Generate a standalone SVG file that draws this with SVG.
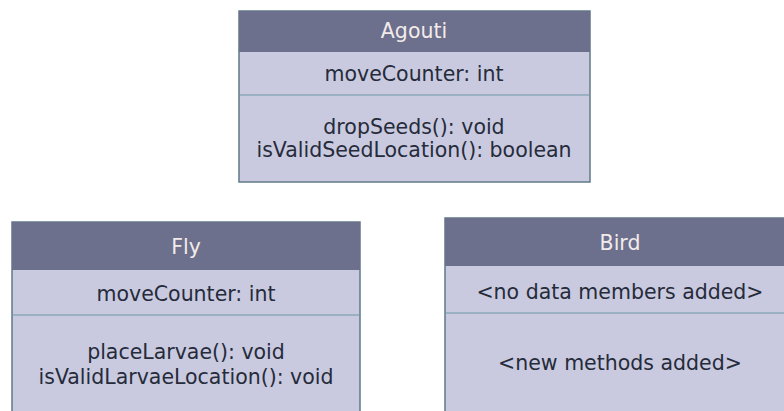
<svg xmlns="http://www.w3.org/2000/svg" width="784" height="411" viewBox="0 0 784 411">
<style>
.box{fill:#c9cae0;stroke:#5f7a88;stroke-width:1.5}
.hdr{fill:#6c708d}
.div{stroke:#6f98a6;stroke-width:1.2}
text{font-family:"DejaVu Sans",Verdana,sans-serif;font-size:20.5px;text-anchor:middle;fill:#262b3a}
.t{fill:#f3ebea}
</style>
<rect width="784" height="411" fill="#ffffff"/>
<g id="agouti">
<rect class="box" x="239" y="11" width="351" height="171"/>
<rect class="hdr" x="239" y="11" width="351" height="41"/>
<line class="div" x1="239" y1="95" x2="590" y2="95"/>
<text class="t" x="414" y="38">Agouti</text>
<text x="414" y="81">moveCounter: int</text>
<text x="414" y="134">dropSeeds(): void</text>
<text x="414" y="157">isValidSeedLocation(): boolean</text>
</g>
<g id="fly">
<rect class="box" x="12" y="222" width="348" height="195"/>
<rect class="hdr" x="12" y="222" width="348" height="48"/>
<line class="div" x1="12" y1="315" x2="360" y2="315"/>
<text class="t" x="186" y="254">Fly</text>
<text x="186" y="301">moveCounter: int</text>
<text x="186" y="359">placeLarvae(): void</text>
<text x="186" y="384">isValidLarvaeLocation(): void</text>
</g>
<g id="bird">
<rect class="box" x="445" y="218" width="350" height="200"/>
<rect class="hdr" x="445" y="218" width="350" height="48"/>
<line class="div" x1="445" y1="313" x2="795" y2="313"/>
<text class="t" x="620" y="250">Bird</text>
<text x="620" y="299">&lt;no data members added&gt;</text>
<text x="620" y="370">&lt;new methods added&gt;</text>
</g>
<g id="connectors"></g>
</svg>
